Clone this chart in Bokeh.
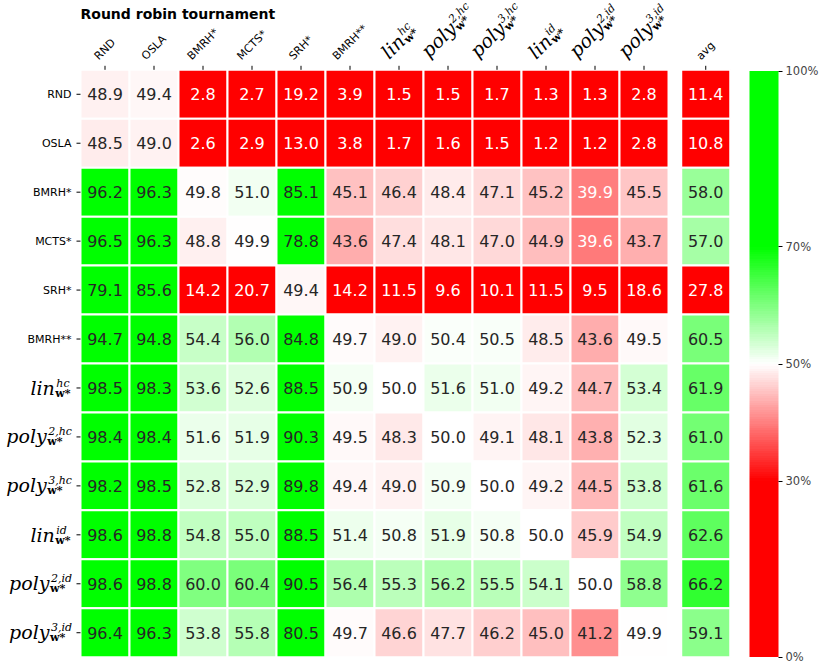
import math
from bokeh.plotting import figure
from bokeh.models import (Range1d, FixedTicker, ColumnDataSource,
                          LabelSet, Label, ColorBar, LinearColorMapper, PrintfTickFormatter)
from bokeh.core.properties import value
from bokeh.embed import file_html
from bokeh.resources import INLINE

# ---------------- data ----------------
title_text = "Round robin tournament"
label_base = ["RND", "OSLA", "BMRH*", "MCTS*", "SRH*", "BMRH**",
              "lin", "poly", "poly", "lin", "poly", "poly"]
label_sup = ["", "", "", "", "", "", "hc", "2,hc", "3,hc", "id", "2,id", "3,id"]
label_sub = ["", "", "", "", "", "", "w*", "w*", "w*", "w*", "w*", "w*"]
avg_label = "avg"

row_rnd = [48.9, 49.4, 2.8, 2.7, 19.2, 3.9, 1.5, 1.5, 1.7, 1.3, 1.3, 2.8]
row_osla = [48.5, 49.0, 2.6, 2.9, 13.0, 3.8, 1.7, 1.6, 1.5, 1.2, 1.2, 2.8]
row_bmrh = [96.2, 96.3, 49.8, 51.0, 85.1, 45.1, 46.4, 48.4, 47.1, 45.2, 39.9, 45.5]
row_mcts = [96.5, 96.3, 48.8, 49.9, 78.8, 43.6, 47.4, 48.1, 47.0, 44.9, 39.6, 43.7]
row_srh = [79.1, 85.6, 14.2, 20.7, 49.4, 14.2, 11.5, 9.6, 10.1, 11.5, 9.5, 18.6]
row_bmrh2 = [94.7, 94.8, 54.4, 56.0, 84.8, 49.7, 49.0, 50.4, 50.5, 48.5, 43.6, 49.5]
row_lin_hc = [98.5, 98.3, 53.6, 52.6, 88.5, 50.9, 50.0, 51.6, 51.0, 49.2, 44.7, 53.4]
row_poly2_hc = [98.4, 98.4, 51.6, 51.9, 90.3, 49.5, 48.3, 50.0, 49.1, 48.1, 43.8, 52.3]
row_poly3_hc = [98.2, 98.5, 52.8, 52.9, 89.8, 49.4, 49.0, 50.9, 50.0, 49.2, 44.5, 53.8]
row_lin_id = [98.6, 98.8, 54.8, 55.0, 88.5, 51.4, 50.8, 51.9, 50.8, 50.0, 45.9, 54.9]
row_poly2_id = [98.6, 98.8, 60.0, 60.4, 90.5, 56.4, 55.3, 56.2, 55.5, 54.1, 50.0, 58.8]
row_poly3_id = [96.4, 96.3, 53.8, 55.8, 80.5, 49.7, 46.6, 47.7, 46.2, 45.0, 41.2, 49.9]
avg_values = [11.4, 10.8, 58.0, 57.0, 27.8, 60.5, 61.9, 61.0, 61.6, 62.6, 66.2, 59.1]
cbar_ticks = [0, 30, 50, 70, 100]

matrix = [row_rnd, row_osla, row_bmrh, row_mcts, row_srh, row_bmrh2,
          row_lin_hc, row_poly2_hc, row_poly3_hc, row_lin_id, row_poly2_id, row_poly3_id]

# ---------------- style / layout ----------------
W_FIG, H_FIG = 831, 667
GRID_X0, GRID_Y0 = 80.0, 69.3     # grid top-left in canvas px
N = len(label_base)
CW = 49.0                          # px per column
CH = 48.95                         # px per row
AVG_X = 12.76                      # avg column centre (column units)

RED = (255, 0, 0)
WHITE = (255, 255, 255)
GREEN = (0, 255, 0)


def mix(a, b, t):
    return tuple(a[k] + (b[k] - a[k]) * t for k in range(3))


def cmap(v):
    if v <= 30:
        c = RED
    elif v <= 50:
        c = mix(RED, WHITE, (v - 30) / 20)
    elif v <= 70:
        c = mix(WHITE, GREEN, (v - 50) / 20)
    else:
        c = GREEN
    return c


def hexc(c):
    return "#%02x%02x%02x" % tuple(int(round(x)) for x in c)


def lum(c):
    def lin(x):
        x = x / 255
        return x / 12.92 if x <= 0.04045 else ((x + 0.055) / 1.055) ** 2.4
    return 0.2126 * lin(c[0]) + 0.7152 * lin(c[1]) + 0.0722 * lin(c[2])


p = figure(width=W_FIG, height=H_FIG, output_backend="svg", toolbar_location=None,
           x_range=Range1d(-GRID_X0 / CW, (W_FIG - GRID_X0) / CW),
           y_range=Range1d((H_FIG - GRID_Y0) / CH, -GRID_Y0 / CH),
           x_axis_location=None, y_axis_location=None, min_border=0)
p.title.visible = False
p.outline_line_color = None
p.grid.visible = False
p.background_fill_color = "white"
p.border_fill_color = "white"

# ---------------- cells ----------------
xs, ys, fills, texts, tcols = [], [], [], [], []
for r, row in enumerate(matrix):
    for c, v in enumerate(row + [avg_values[r]]):
        xs.append(c + 0.5 if c < N else AVG_X)
        ys.append(r + 0.5)
        col = cmap(v)
        fills.append(hexc(col))
        texts.append("%.1f" % v)
        tcols.append("#262626" if lum(col) > 0.408 else "#ffffff")
cells = ColumnDataSource(dict(x=xs, y=ys, fill=fills, text=texts, tcol=tcols))
p.rect("x", "y", width=1, height=1, source=cells, fill_color="fill",
       line_color="white", line_width=2)
p.text("x", "y", text="text", source=cells, text_color="tcol",
       text_font=value("DejaVu Sans"), text_font_size="16px",
       text_align="center", text_baseline="middle")

# ---------------- ticks ----------------
TICK_LEN = 4.0
col_ticks = [i + 0.5 for i in range(N)] + [AVG_X]
row_ticks = [i + 0.5 for i in range(N)]
p.segment(x0=col_ticks, y0=[0] * len(col_ticks), x1=col_ticks,
          y1=[-TICK_LEN / CH] * len(col_ticks), line_color="black", line_width=1)
p.segment(x0=[0] * N, y0=row_ticks, x1=[-TICK_LEN / CW] * N, y1=row_ticks,
          line_color="black", line_width=1)

# ---------------- tick labels (composed) ----------------
SANS = dict(R=.695, N=.748, D=.770, O=.787, S=.635, L=.557, A=.684, B=.686, M=.863,
            H=.752, C=.698, T=.611, a=.613, v=.592, g=.635)
SANS["*"] = .500
SERIF_I = dict(l=.320, i=.320, n=.644, p=.640, o=.602, y=.565, h=.644, c=.560, d=.640)
SERIF_I.update({"2": .636, "3": .636, ",": .318})
SERIF_B = dict(w=.924)
SERIF_B["*"] = .500


def tw(s, table, size):
    return sum(table.get(ch, .6) for ch in s) * size


FS_PLAIN, FS_BASE, FS_SCRIPT = 11, 19, 11
SUP_UP, SUB_DOWN = 8.0, 2.0
C45 = S45 = math.sqrt(0.5)
TICK_TOP = -TICK_LEN
PAD = 4.0
LEFT_EDGE = -9.0

groups = {k: dict(x=[], y=[], text=[], angle=[]) for k in
          ("plain_left", "plain_top", "base", "sup", "sub")}


def put(g, px, py, text, ang):
    groups[g]["x"].append(px / CW)
    groups[g]["y"].append(py / CH)
    groups[g]["text"].append(text)
    groups[g]["angle"].append(ang)


def math_parts(base, sup, sub):
    bw = tw(base, SERIF_I, FS_BASE)
    sw = max(tw(sup, SERIF_I, FS_SCRIPT), tw(sub, SERIF_B, FS_SCRIPT))
    W = bw + 1 + sw
    asc = SUP_UP + 0.73 * FS_SCRIPT
    desc = 0.23 * FS_BASE if any(ch in base for ch in "py") else 2.5
    parts = [("base", base, 0.0, 0.0), ("sup", sup, bw + 1.5, SUP_UP),
             ("sub", sub, bw + 0.5, -SUB_DOWN)]
    return parts, W, asc, desc


for i in range(N):
    base, sup, sub = label_base[i], label_sup[i], label_sub[i]
    rowc = (i + 0.5) * CH
    colc = (i + 0.5) * CW
    if not sup:
        put("plain_left", LEFT_EDGE, rowc, base, 0.0)
        w = tw(base, SANS, FS_PLAIN)
        H = (w + FS_PLAIN) * S45
        put("plain_top", colc, TICK_TOP - PAD - H / 2, base, math.pi / 4)
    else:
        parts, W, asc, desc = math_parts(base, sup, sub)
        ox = LEFT_EDGE - W
        oy = rowc + (asc - desc) / 2
        for g, t, dx, dy in parts:
            put(g, ox + dx, oy - dy, t, 0.0)
        H = W * S45 + (asc + desc) * C45
        tx, ty = colc, TICK_TOP - PAD - H / 2
        ox = tx - (W / 2) * C45 + ((asc - desc) / 2) * S45
        oy = ty + (W / 2) * S45 + ((asc - desc) / 2) * C45
        for g, t, dx, dy in parts:
            put(g, ox + dx * C45 - dy * S45, oy - dx * S45 - dy * C45, t, math.pi / 4)

w = tw(avg_label, SANS, FS_PLAIN)
H = (w + FS_PLAIN) * S45
put("plain_top", AVG_X * CW, TICK_TOP - PAD - H / 2, avg_label, math.pi / 4)

styles = {
    "plain_left": dict(text_font=value("DejaVu Sans"), text_font_size="11px",
                       text_align="right", text_baseline="middle", text_font_style="normal"),
    "plain_top": dict(text_font=value("DejaVu Sans"), text_font_size="11px",
                      text_align="center", text_baseline="middle", text_font_style="normal"),
    "base": dict(text_font=value("DejaVu Serif"), text_font_size="%dpx" % FS_BASE,
                 text_align="left", text_baseline="alphabetic", text_font_style="italic"),
    "sup": dict(text_font=value("DejaVu Serif"), text_font_size="%dpx" % FS_SCRIPT,
                text_align="left", text_baseline="alphabetic", text_font_style="italic"),
    "sub": dict(text_font=value("DejaVu Serif"), text_font_size="%dpx" % FS_SCRIPT,
                text_align="left", text_baseline="alphabetic", text_font_style="bold"),
}
for g, st in styles.items():
    src = ColumnDataSource(groups[g])
    p.add_layout(LabelSet(x="x", y="y", text="text", angle="angle", source=src,
                          text_color="black", **st))

# ---------------- title ----------------
p.add_layout(Label(x=0, y=(13.0 - GRID_Y0) / CH, text=title_text,
                   text_font="DejaVu Sans", text_font_size="14px", text_font_style="bold",
                   text_color="black", text_align="left", text_baseline="alphabetic"))

# ---------------- colour bar ----------------
palette = [hexc(cmap(100 * k / 255)) for k in range(256)]
mapper = LinearColorMapper(palette=palette, low=0, high=100)
cb = ColorBar(color_mapper=mapper, ticker=FixedTicker(ticks=cbar_ticks),
              formatter=PrintfTickFormatter(format="%d%%"),
              width=29, height=586, location=(749, H_FIG - 656.5), padding=0, margin=0,
              major_tick_out=4, major_tick_in=0, major_tick_line_color="black",
              label_standoff=3, major_label_text_font="DejaVu Sans",
              major_label_text_font_size="11.5px", bar_line_color=None,
              background_fill_color=None, border_line_color=None)
p.add_layout(cb)

open("out.html", "w").write(file_html(p, INLINE))
